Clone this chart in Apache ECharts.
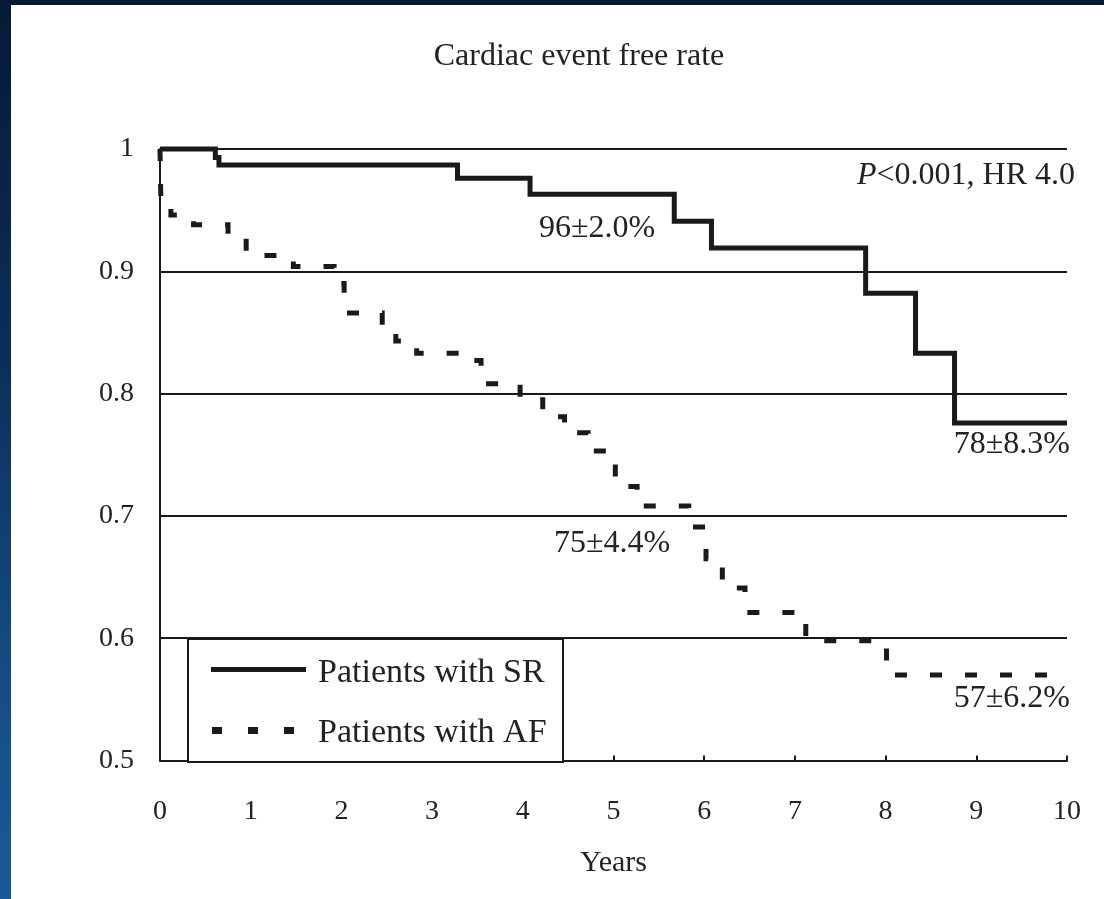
<!DOCTYPE html>
<html>
<head>
<meta charset="utf-8">
<script src="https://cdn.jsdelivr.net/npm/echarts@6/dist/echarts.min.js"></script>
<style>
  html, body { margin: 0; padding: 0; width: 1104px; height: 899px; overflow: hidden;
    background: linear-gradient(to bottom, #061a34 0%, #0b2f5a 40%, #154c85 75%, #1a5a98 100%); }
  #chart { position: absolute; left: 11px; top: 5px; width: 1093px; height: 894px; background: #ffffff; }
</style>
</head>
<body>
<div id="chart"></div>
<script>
// ---- Data ----
var title = 'Cardiac event free rate';
var xAxisName = 'Years';
var xTicks = [0, 1, 2, 3, 4, 5, 6, 7, 8, 9, 10];
var yTicks = [0.5, 0.6, 0.7, 0.8, 0.9, 1];

// Kaplan-Meier curve for patients with sinus rhythm (step times and values after step)
var srTimes  = [0, 0.61, 0.65, 3.28, 4.08, 5.67, 6.08, 7.78, 8.33, 8.76, 10];
var srValues = [1.0, 0.993, 0.987, 0.976, 0.963, 0.941, 0.919, 0.882, 0.833, 0.776, 0.776];

// Kaplan-Meier curve for patients with atrial fibrillation
var afTimes  = [0, 0.01, 0.12, 0.37, 0.75, 0.95, 1.47, 1.92, 2.03, 2.45, 2.6, 2.83, 3.34, 3.54, 3.97, 4.22, 4.46, 4.72, 5.02, 5.26, 5.83, 6.02, 6.2, 6.45, 7.12, 8.01, 10];
var afValues = [1.0, 0.955, 0.946, 0.938, 0.930, 0.913, 0.904, 0.89, 0.866, 0.855, 0.843, 0.833, 0.827, 0.808, 0.795, 0.781, 0.768, 0.753, 0.724, 0.708, 0.691, 0.665, 0.641, 0.621, 0.598, 0.570, 0.570];

var seriesNames = ['Patients with SR', 'Patients with AF'];
var annotations = ['P<0.001, HR 4.0', '96±2.0%', '78±8.3%', '75±4.4%', '57±6.2%'];

// ---- Build ----
function pairs(ts, vs) { return ts.map(function (t, i) { return [t, vs[i]]; }); }

var FONT = '"Liberation Serif", "Times New Roman", serif';
var INK = '#1a1a1a';
var TXT = '#222222';
var ANN = '32px ' + FONT;

var chart = echarts.init(document.getElementById('chart'), null, { renderer: 'canvas' });

function txt(text, x, y, align, font, extra) {
  var s = { text: text, x: x, y: y, font: font, fill: TXT,
    align: align, verticalAlign: 'middle', textAlign: align, textVerticalAlign: 'middle' };
  if (extra) { for (var k in extra) s[k] = extra[k]; }
  return { type: 'text', z: 21, style: s };
}

var option = {
  animation: false,
  backgroundColor: '#ffffff',
  grid: { left: 149, right: 37, top: 144, bottom: 138.5, containLabel: false },
  xAxis: {
    type: 'value', min: xTicks[0], max: xTicks[xTicks.length - 1], interval: 1,
    name: xAxisName, nameLocation: 'middle', nameGap: 88,
    nameTextStyle: { fontFamily: FONT, fontSize: 30, color: TXT },
    axisLine: { show: true, onZero: false, lineStyle: { color: INK, width: 2 } },
    axisTick: { show: true, inside: true, length: 5, lineStyle: { color: INK, width: 2 } },
    axisLabel: { fontFamily: FONT, fontSize: 28, color: TXT, margin: 37 },
    splitLine: { show: false }
  },
  yAxis: {
    type: 'value', min: yTicks[0], max: yTicks[yTicks.length - 1], interval: 0.1,
    axisLine: { show: true, onZero: false, lineStyle: { color: INK, width: 2 } },
    axisTick: { show: false },
    axisLabel: { fontFamily: FONT, fontSize: 28, color: TXT, margin: 26,
      formatter: function (v) { return String(Math.round(v * 10) / 10); } },
    splitLine: { show: true, lineStyle: { color: INK, width: 2 } }
  },
  series: [
    {
      name: seriesNames[0], type: 'line', step: 'end', showSymbol: false, symbol: 'none', clip: false,
      data: pairs(srTimes, srValues),
      lineStyle: { color: INK, width: 5, type: 'solid', cap: 'butt', join: 'miter' },
      z: 5
    },
    {
      name: seriesNames[1], type: 'line', step: 'end', showSymbol: false, symbol: 'none', clip: false,
      data: pairs(afTimes, afValues),
      lineStyle: { color: INK, width: 5, type: [12, 23], cap: 'butt', join: 'miter' },
      z: 5
    }
  ],
  graphic: [
    txt(title, 568, 52, 'center', '32px ' + FONT),
    // annotations
    txt('{i|P}' + annotations[0].slice(1), 1064, 171, 'right', ANN,
      { rich: { i: { fontStyle: 'italic', fontFamily: FONT, fontSize: 32, fill: TXT } } }),
    txt(annotations[1], 586, 224, 'center', ANN),
    txt(annotations[2], 1059, 440, 'right', ANN),
    txt(annotations[3], 601, 539, 'center', ANN),
    txt(annotations[4], 1059, 694, 'right', ANN),
    // legend box
    { type: 'rect', z: 20, shape: { x: 177, y: 634, width: 375, height: 123 },
      style: { fill: '#ffffff', stroke: INK, lineWidth: 2 } },
    { type: 'line', z: 21, shape: { x1: 200, y1: 664.5, x2: 295, y2: 664.5 },
      style: { stroke: INK, lineWidth: 5 } },
    txt(seriesNames[0], 307, 668, 'left', '34px ' + FONT),
    { type: 'line', z: 21, shape: { x1: 201, y1: 725.5, x2: 283, y2: 725.5 },
      style: { stroke: INK, lineWidth: 7, lineDash: [10, 26], lineCap: 'butt' } },
    txt(seriesNames[1], 307, 728, 'left', '34px ' + FONT)
  ]
};
chart.setOption(option);
</script>
</body>
</html>
